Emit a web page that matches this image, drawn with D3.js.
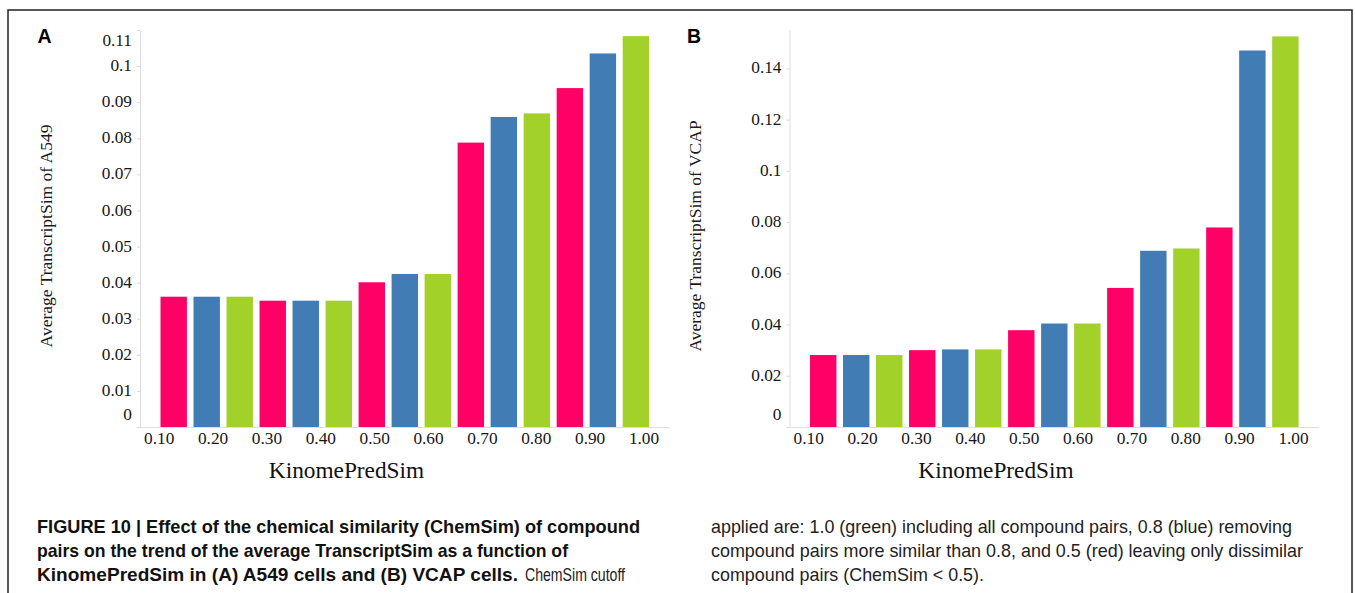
<!DOCTYPE html>
<html><head><meta charset="utf-8">
<script src="https://cdn.jsdelivr.net/npm/d3@7"></script>
<style>body{margin:0;background:#fff} svg{display:block}</style>
</head><body>
<svg id="chart" width="1355" height="593"></svg>
<script>
// ---- data ----
const bins = ["bin1", "bin2", "bin3", "bin4", "bin5"];
const cutoffs = ["0.5", "0.8", "1.0"];
const cutoffColors = ["#FF0066", "#417DB4", "#A2D12A"];
const xTickValues = [0.1, 0.2, 0.3, 0.4, 0.5, 0.6, 0.7, 0.8, 0.9, 1.0];
const xTickLabels = ["0.10", "0.20", "0.30", "0.40", "0.50", "0.60", "0.70", "0.80", "0.90", "1.00"];

const a549Cut05 = [0.0361, 0.0350, 0.0401, 0.0788, 0.0939];
const a549Cut08 = [0.0361, 0.0350, 0.0424, 0.0859, 0.1035];
const a549Cut10 = [0.0361, 0.0350, 0.0424, 0.0869, 0.1083];
const yTicksA = [0, 0.01, 0.02, 0.03, 0.04, 0.05, 0.06, 0.07, 0.08, 0.09, 0.1, 0.11];
const yTickLabelsA = ["0", "0.01", "0.02", "0.03", "0.04", "0.05", "0.06", "0.07", "0.08", "0.09", "0.1", "0.11"];

const vcapCut05 = [0.0281, 0.0300, 0.0378, 0.0543, 0.0779];
const vcapCut08 = [0.0281, 0.0303, 0.0404, 0.0688, 0.1470];
const vcapCut10 = [0.0281, 0.0303, 0.0404, 0.0697, 0.1525];
const yTicksB = [0, 0.02, 0.04, 0.06, 0.08, 0.1, 0.12, 0.14];
const yTickLabelsB = ["0", "0.02", "0.04", "0.06", "0.08", "0.1", "0.12", "0.14"];

const xTitle = "KinomePredSim";
const yTitleA = "Average TranscriptSim of A549";
const yTitleB = "Average TranscriptSim of VCAP";

// ---- drawing ----
const svg = d3.select("#chart");
const serif = "'Liberation Serif', 'Times New Roman', serif";
const sans = "'Liberation Sans', Arial, sans-serif";
const narrow = "'Liberation Sans Narrow', 'Liberation Sans', Arial, sans-serif";

// frame
svg.append("path")
  .attr("d", "M8,600 V10 H1352 V600")
  .attr("fill", "none").attr("stroke", "#222").attr("stroke-width", 1.5);

function panel(ox, letter, yTitle, yMax, yTicks, yLabels, series) {
  const top = 30, base = 427;
  const g = svg.append("g").attr("transform", `translate(${ox},0)`);
  const y = d3.scaleLinear().domain([0, yMax]).range([base, top]);
  const rows = bins.flatMap((b, bi) => cutoffs.map((c, ci) => ({
    key: b + "|" + c, value: series[ci][bi], color: cutoffColors[ci]
  })));
  const xb = d3.scaleBand().domain(rows.map(r => r.key))
    .range([17.7, 512.9]).paddingInner(0.2).paddingOuter(0.1);

  g.selectAll("rect.bar").data(rows).join("rect")
    .attr("class", "bar")
    .attr("x", d => xb(d.key)).attr("width", xb.bandwidth())
    .attr("y", d => y(d.value)).attr("height", d => base - y(d.value))
    .attr("fill", d => d.color);

  // y axis
  const ya = g.append("g").attr("transform", "translate(0.5,0)")
    .call(d3.axisLeft(y).tickValues(yTicks).tickFormat((d, i) => yLabels[i])
      .tickSize(3).tickSizeOuter(0).tickPadding(5));
  ya.select(".domain").attr("stroke", "#dedede");
  ya.selectAll(".tick line").attr("stroke", "#d8d8d8");
  ya.selectAll(".tick text")
    .attr("font-family", serif).attr("font-size", 17.3).attr("fill", "#161616")
    .attr("y", d => Math.max(40, Math.min(414, y(d) - 1)) - y(d));

  // x baseline
  g.append("line").attr("x1", 0).attr("x2", 530)
    .attr("y1", base + 0.5).attr("y2", base + 0.5)
    .attr("stroke", "#dedede");

  // x tick labels
  const xl = d3.scaleLinear().domain([0.1, 1.0]).range([19.2, 504]);
  const xa = g.append("g").attr("transform", `translate(0,${base})`)
    .call(d3.axisBottom(xl).tickValues(xTickValues).tickFormat((d, i) => xTickLabels[i])
      .tickSize(0).tickPadding(5));
  xa.select(".domain").remove();
  xa.selectAll(".tick text")
    .attr("font-family", serif).attr("font-size", 17.3).attr("fill", "#161616");

  // titles
  g.append("text").attr("x", 207).attr("y", 478)
    .attr("text-anchor", "middle").attr("font-family", serif)
    .attr("font-size", 23.3).attr("fill", "#111").text(xTitle);
  g.append("text")
    .attr("transform", "translate(-88,236) rotate(-90)")
    .attr("text-anchor", "middle").attr("font-family", serif)
    .attr("font-size", 17.5).attr("fill", "#1a1a1a").text(yTitle);
  g.append("text").attr("x", -102).attr("y", 43)
    .attr("font-family", sans).attr("font-weight", "bold")
    .attr("font-size", 19.5).attr("fill", "#000").text(letter);
}

panel(139.5, "A", yTitleA, 0.11, yTicksA, yTickLabelsA, [a549Cut05, a549Cut08, a549Cut10]);
panel(789, "B", yTitleB, 0.155, yTicksB, yTickLabelsB, [vcapCut05, vcapCut08, vcapCut10]);

// caption
const cap = [
  {t: "FIGURE 10 | Effect of the chemical similarity (ChemSim) of compound", x: 37, y: 533, w: 603, b: true},
  {t: "pairs on the trend of the average TranscriptSim as a function of", x: 37, y: 557, w: 531, b: true},
  {t: "KinomePredSim in (A) A549 cells and (B) VCAP cells.", x: 37, y: 581, w: 481, b: true},
  {t: "ChemSim cutoff", x: 525, y: 581, w: 100, b: false},
  {t: "applied are: 1.0 (green) including all compound pairs, 0.8 (blue) removing", x: 711, y: 533, w: 581, b: false},
  {t: "compound pairs more similar than 0.8, and 0.5 (red) leaving only dissimilar", x: 711, y: 557, w: 592, b: false},
  {t: "compound pairs (ChemSim < 0.5).", x: 711, y: 581, w: 273, b: false}
];
svg.selectAll("text.cap").data(cap).join("text")
  .attr("class", "cap")
  .attr("x", d => d.x).attr("y", d => d.y)
  .attr("font-family", d => d.b ? narrow : sans).attr("font-size", 18.5)
  .attr("font-weight", d => d.b ? "bold" : "normal")
  .attr("fill", d => d.b ? "#111" : "#222")
  .attr("textLength", d => d.w).attr("lengthAdjust", "spacingAndGlyphs")
  .text(d => d.t);
</script>
</body></html>
